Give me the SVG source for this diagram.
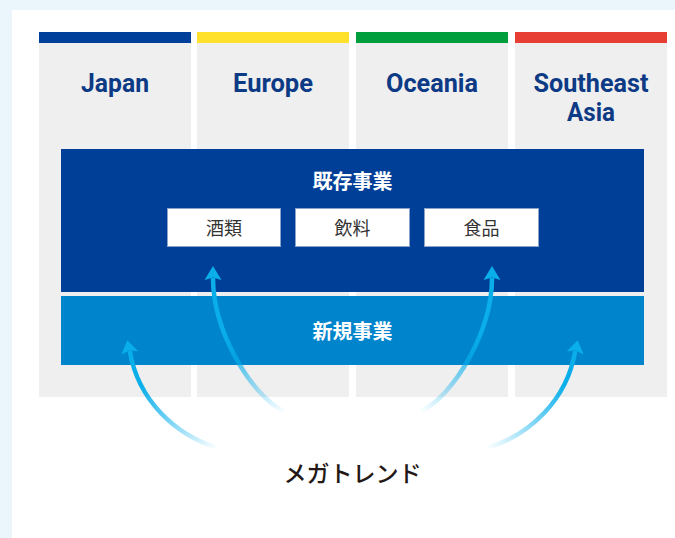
<svg xmlns="http://www.w3.org/2000/svg" width="675" height="538" viewBox="0 0 675 538">
<style>
.col{fill:#efefef}
.region{font-family:Roboto,"Liberation Sans",sans-serif;font-weight:700;font-size:25px;fill:#0d3a85;text-anchor:middle}
.head{font-family:"Noto Sans CJK JP","Noto Sans",sans-serif;font-weight:700;font-size:20px;fill:#ffffff;text-anchor:middle}
.item{fill:#ffffff;stroke:#8aa3cc;stroke-width:1}
.itemt{font-family:"Noto Sans CJK JP","Noto Sans",sans-serif;font-weight:400;font-size:18px;fill:#333333;text-anchor:middle}
.shaft{fill:none;stroke-width:4.5;stroke-linecap:butt}
.ah{fill:#0aaee9}
</style>
<defs>
<linearGradient id="gIL" gradientUnits="userSpaceOnUse" x1="285" y1="412" x2="213" y2="300">
<stop offset="0" stop-color="#00aeef" stop-opacity="0"/><stop offset="0.75" stop-color="#0aaee9" stop-opacity="1"/></linearGradient>
<linearGradient id="gIR" gradientUnits="userSpaceOnUse" x1="420" y1="412" x2="492" y2="300">
<stop offset="0" stop-color="#00aeef" stop-opacity="0"/><stop offset="0.75" stop-color="#0aaee9" stop-opacity="1"/></linearGradient>
<linearGradient id="gOL" gradientUnits="userSpaceOnUse" x1="218" y1="448" x2="130" y2="360">
<stop offset="0" stop-color="#00aeef" stop-opacity="0"/><stop offset="0.8" stop-color="#0aaee9" stop-opacity="1"/></linearGradient>
<linearGradient id="gOR" gradientUnits="userSpaceOnUse" x1="487" y1="448" x2="575" y2="360">
<stop offset="0" stop-color="#00aeef" stop-opacity="0"/><stop offset="0.8" stop-color="#0aaee9" stop-opacity="1"/></linearGradient>
</defs>
<rect x="0" y="0" width="675" height="538" fill="#eaf5fc"/>
<rect x="12" y="10" width="663" height="528" fill="#ffffff"/>
<g id="japan">
<rect class="col" x="39" y="43" width="152" height="354"/>
<rect x="39" y="32" width="152" height="11" fill="#00409a"/>
<text class="region" x="115" y="92" textLength="68" lengthAdjust="spacingAndGlyphs">Japan</text>
</g>
<g id="europe">
<rect class="col" x="197" y="43" width="152" height="354"/>
<rect x="197" y="32" width="152" height="11" fill="#ffe12c"/>
<text class="region" x="273" y="92" textLength="80" lengthAdjust="spacingAndGlyphs">Europe</text>
</g>
<g id="oceania">
<rect class="col" x="356" y="43" width="152" height="354"/>
<rect x="356" y="32" width="152" height="11" fill="#009e3d"/>
<text class="region" x="432" y="92" textLength="92" lengthAdjust="spacingAndGlyphs">Oceania</text>
</g>
<g id="southeast-asia">
<rect class="col" x="515" y="43" width="152" height="354"/>
<rect x="515" y="32" width="152" height="11" fill="#e83f34"/>
<text class="region" x="591" y="92" textLength="115" lengthAdjust="spacingAndGlyphs">Southeast</text>
<text class="region" x="591" y="120.5" textLength="48" lengthAdjust="spacingAndGlyphs">Asia</text>
</g>
<g id="existing">
<rect x="61" y="149" width="583" height="143" fill="#003f98"/>
<text class="head" x="352.5" y="188.5">既存事業</text>
</g>
<g id="alcohol">
<rect class="item" x="167.5" y="208.5" width="113" height="38"/>
<text class="itemt" x="224" y="235">酒類</text>
</g>
<g id="beverage">
<rect class="item" x="295.5" y="208.5" width="114" height="38"/>
<text class="itemt" x="352.5" y="235">飲料</text>
</g>
<g id="food">
<rect class="item" x="424.5" y="208.5" width="114" height="38"/>
<text class="itemt" x="481.5" y="235">食品</text>
</g>
<g id="new">
<rect x="61" y="296" width="583" height="69" fill="#0084cc"/>
<text class="head" x="352.5" y="338.5">新規事業</text>
</g>
<g id="megatrend">
<text x="352.5" y="482" font-family="'Noto Sans CJK JP','Noto Sans',sans-serif" font-size="23" font-weight="500" fill="#231815" text-anchor="middle">メガトレンド</text>
</g>
<g id="connectors">
<path class="shaft" stroke="url(#gIL)" d="M285,412 C250,395 213,330 213,278"/>
<polygon class="ah" points="213,266 221.5,280 213,277.5 204.5,280"/>
<path class="shaft" stroke="url(#gIR)" d="M420,412 C455,395 492,330 492,278"/>
<polygon class="ah" points="492,266 500.5,280 492,277.5 483.5,280"/>
<path class="shaft" stroke="url(#gOL)" d="M218,448 C175,435 138,400 129.8,351"/>
<polygon class="ah" points="127.3,340.2 138.2,351.3 129.6,350.6 121.4,354.5"/>
<path class="shaft" stroke="url(#gOR)" d="M487,448 C530,435 567,400 575.2,351"/>
<polygon class="ah" points="577.7,340.2 566.8,351.3 575.4,350.6 583.6,354.5"/>
</g>
</svg>
